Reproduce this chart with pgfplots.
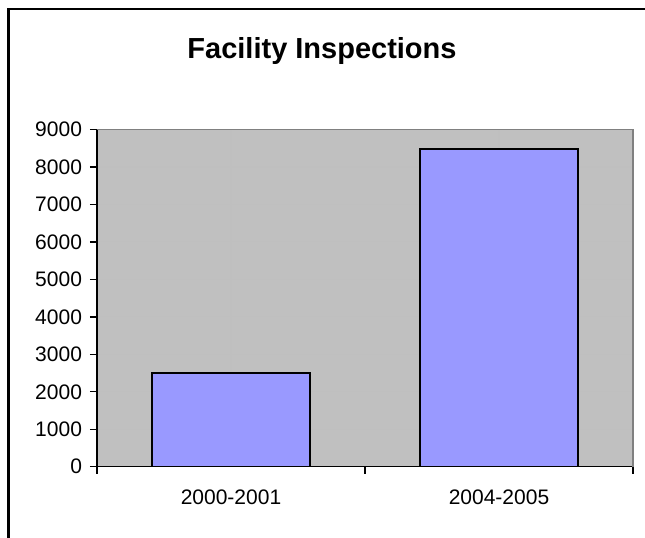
\documentclass[border=0pt]{standalone}
\usepackage{pgfplots}
\pgfplotsset{compat=1.18}
\usepackage{fontspec}
\setmainfont{Liberation Sans}
\definecolor{plotbg}{HTML}{C0C0C0}
\definecolor{barfill}{HTML}{9999FF}
\definecolor{grid}{HTML}{404040}
\begin{document}
\begin{tikzpicture}
\useasboundingbox (0,0) rectangle (483.75pt,402.75pt);
% outer frame (left and top visible)
\draw[line width=2pt] (6.5pt,-1pt) -- (6.5pt,396pt) -- (490pt,396pt);
\node[anchor=base, font=\fontsize{21.75pt}{24pt}\selectfont\bfseries] at (241.5pt,359pt) {Facility Inspections};
\begin{axis}[
  at={(72.75pt,52.7pt)}, anchor=south west,
  scale only axis, width=402pt, height=252.9pt,
  xmin=0.5, xmax=2.5, ymin=0, ymax=9000,
  axis x line*=bottom, axis y line*=left,
  axis line style={black, line width=1pt},
  axis background/.style={fill=plotbg},
  xtick={1,2}, xticklabels={2000-2001,2004-2005},
  major x tick style={draw=none},
  minor xtick={0.5,1.5,2.5},
  minor x tick style={black, line width=1pt},
  minor tick length=5.25pt,
  ytick={0,1000,...,9000},
  y tick style={black, line width=1pt},
  major tick length=5.25pt,
  tick align=outside,
  ymajorgrids, major grid style={grid, line width=0.8pt},
  /pgf/number format/1000 sep={},
  /pgf/number format/assume math mode=true,
  tick label style={font=\fontsize{15.75pt}{18pt}\selectfont},
  xticklabel style={yshift=-8.5pt},
  yticklabel style={xshift=-2.5pt},
  bar width=0.593,
  after end axis/.code={
    \draw[gray, line width=1.2pt] (rel axis cs:0,1) -- (rel axis cs:1,1) -- (rel axis cs:1,0);
  },
]
\addplot[ybar, fill=barfill, draw=black, line width=1.5pt] coordinates {(1,2500) (2,8470)};
\end{axis}
\end{tikzpicture}
\end{document}
